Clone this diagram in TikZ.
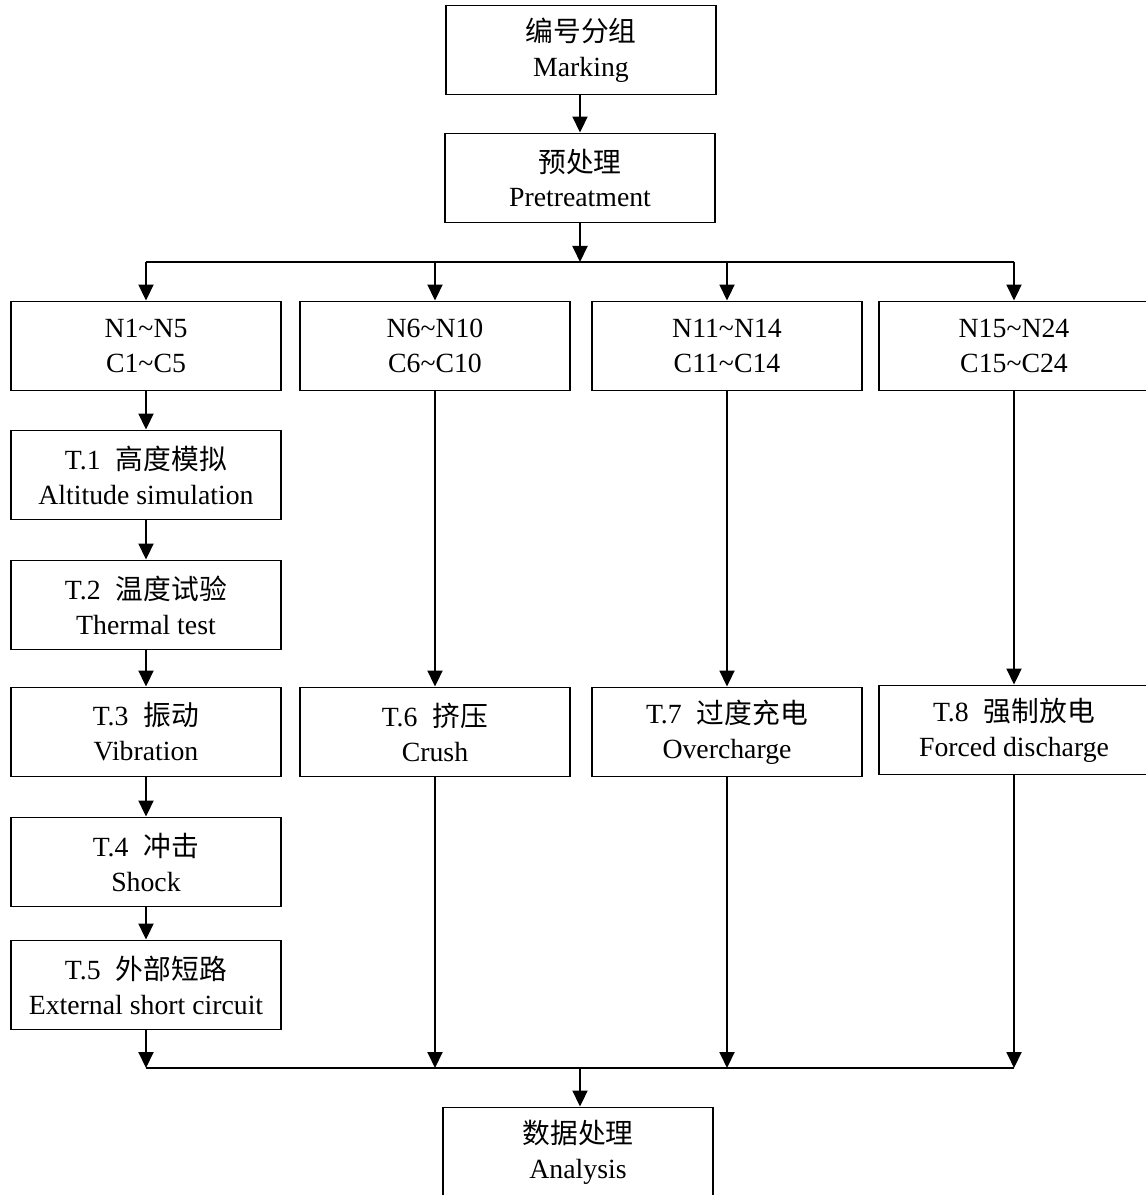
\documentclass[tikz,border=0pt]{standalone}
\usepackage{fontspec}
\setmainfont{Liberation Serif}
\newfontfamily\cjk{Noto Sans CJK SC}
\usepackage{tikz}
\usetikzlibrary{arrows.meta}
\usetikzlibrary{positioning}

\begin{document}
\begin{tikzpicture}[
  x=0.02cm, y=-0.02cm, line width=1.1pt,
  box/.style={rectangle,draw,minimum width=5.4cm,minimum height=1.78cm,
    inner sep=2pt,align=center,font=\fontsize{15.8}{19.9}\selectfont},
  arr/.style={-{Triangle[length=0.32cm,width=0.3cm]}}
]
\useasboundingbox (0,0) rectangle (1145,1195);

% --- Nodes ---
\node[box] (mark) at (581,50)  {{\cjk 编号分组}\\Marking};
\node[box] (pre)  at (580,178) {{\cjk 预处理}\\Pretreatment};

\node[box] (g1)  at (146,346)  {N1\textasciitilde N5\\C1\textasciitilde C5};
\node[box] (g6)  at (435,346)  {N6\textasciitilde N10\\C6\textasciitilde C10};
\node[box] (g11) at (727,346)  {N11\textasciitilde N14\\C11\textasciitilde C14};
\node[box] (g15) at (1014,346) {N15\textasciitilde N24\\C15\textasciitilde C24};

\node[box] (t1) at (146,475) {T.1\hspace{0.55em}{\cjk 高度模拟}\\Altitude simulation};
\node[box] (t2) at (146,605) {T.2\hspace{0.55em}{\cjk 温度试验}\\Thermal test};
\node[box] (t3) at (146,732) {T.3\hspace{0.55em}{\cjk 振动}\\Vibration};
\node[box] (t4) at (146,862) {T.4\hspace{0.55em}{\cjk 冲击}\\Shock};
\node[box] (t5) at (146,985) {T.5\hspace{0.55em}{\cjk 外部短路}\\External short circuit};
\node[box] (t6) at (435,732)  {T.6\hspace{0.55em}{\cjk 挤压}\\Crush};
\node[box] (t7) at (727,732)  {T.7\hspace{0.55em}{\cjk 过度充电}\\Overcharge};
\node[box] (t8) at (1014,730) {T.8\hspace{0.55em}{\cjk 强制放电}\\Forced discharge};

\node[box] (ana) at (578,1152) {{\cjk 数据处理}\\Analysis};

% --- Bus points ---
\coordinate (split) at (580,262);
\coordinate (join)  at (580,1068);

% --- Connectors ---
\draw[arr] (pre |- mark.south) -- (pre);
\draw[arr] (pre) -- (split);
\draw (g1 |- split) -- (g15 |- split);
\foreach \g in {g1,g6,g11,g15}
  \draw[arr] (\g |- split) -- (\g);

\draw[arr] (g1) -- (t1);
\draw[arr] (t1) -- (t2);
\draw[arr] (t2) -- (t3);
\draw[arr] (t3) -- (t4);
\draw[arr] (t4) -- (t5);
\draw[arr] (g6) -- (t6);
\draw[arr] (g11) -- (t7);
\draw[arr] (g15) -- (t8);

\foreach \t in {t5,t6,t7,t8}
  \draw[arr] (\t) -- (\t |- join);
\draw (t5 |- join) -- (t8 |- join);
\draw[arr] (join) -- (join |- ana.north);

\end{tikzpicture}
\end{document}
